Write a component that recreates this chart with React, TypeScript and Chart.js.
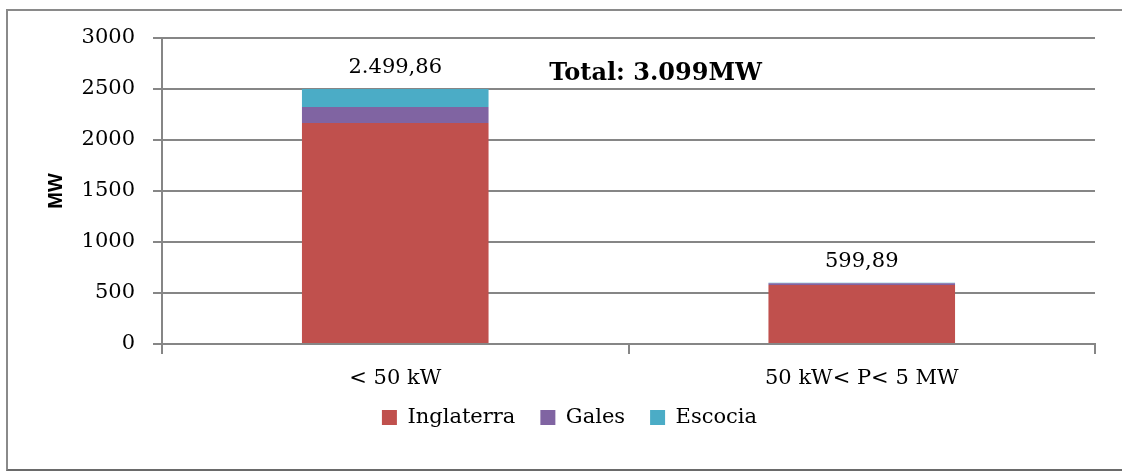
import React, { useEffect, useRef } from "react";
import { Chart, registerables } from "chart.js";

Chart.register(...registerables);

// Installed capacity by size band (MW); each stack adds up to its labelled total
const categories = ["< 50 kW", "50 kW< P< 5 MW"];
const seriesNames = ["Inglaterra", "Gales", "Escocia"];
const inglaterra = [2167.86, 577.89];
const gales = [156, 17];
const escocia = [176, 5];
const totalLabels = ["2.499,86", "599,89"];
const headline = "Total: 3.099MW";
const yTicks = [0, 500, 1000, 1500, 2000, 2500, 3000];

const seriesColors = ["#C0504D", "#8064A2", "#4BACC6"];
const axisGray = "#868686";
const serif = "'DejaVu Serif', serif";

// Draws the stack totals above each bar and the headline total in the plot.
const annotations = {
  id: "annotations",
  afterDatasetsDraw(chart: any) {
    const { ctx, scales, chartArea } = chart;
    const x = scales.x;
    const y = scales.y;
    ctx.save();
    ctx.fillStyle = "#000";
    ctx.textAlign = "center";
    ctx.textBaseline = "middle";
    ctx.font = `21px ${serif}`;
    categories.forEach((_, i) => {
      const top = inglaterra[i] + gales[i] + escocia[i];
      ctx.fillText(totalLabels[i], x.getPixelForValue(i), y.getPixelForValue(top) - 21);
    });
    ctx.font = `bold 24px ${serif}`;
    const hx = chartArea.left + (chartArea.right - chartArea.left) * 0.529;
    ctx.fillText(headline, hx, y.getPixelForValue(2650));
    ctx.restore();
  },
};

// Pulls the legend row up closer to the category labels.
const legendLift = {
  id: "legendLift",
  afterLayout(chart: any) {
    const lg = chart.legend;
    if (lg) {
      lg.top -= 12;
      lg.bottom -= 12;
    }
  },
};

export default function App() {
  const canvasRef = useRef<HTMLCanvasElement | null>(null);

  useEffect(() => {
    if (!canvasRef.current) return;
    const data = [inglaterra, gales, escocia];
    const chart = new Chart(canvasRef.current, {
      type: "bar",
      data: {
        labels: categories,
        datasets: seriesNames.map((name, i) => ({
          label: name,
          data: data[i],
          backgroundColor: seriesColors[i],
          borderWidth: 0,
          categoryPercentage: 1,
          barPercentage: 0.4,
        })),
      },
      options: {
        animation: false,
        responsive: false,
        maintainAspectRatio: false,
        layout: { padding: { left: 44, right: 27, top: 38, bottom: 23 } },
        plugins: {
          legend: {
            position: "bottom",
            labels: {
              boxWidth: 15,
              boxHeight: 15,
              padding: 25,
              color: "#000",
              font: { family: serif, size: 21 },
            },
          },
          tooltip: { enabled: false },
          title: { display: false },
        },
        scales: {
          x: {
            stacked: true,
            grid: {
              display: true,
              drawOnChartArea: false,
              color: axisGray,
              lineWidth: 2,
              tickLength: 10,
              offset: true,
            },
            border: { display: true, color: axisGray, width: 2 },
            ticks: { color: "#000", padding: 12, font: { family: serif, size: 21 } },
            afterFit: (scale: any) => {
              scale.height = 50;
            },
          },
          y: {
            stacked: true,
            min: 0,
            max: 3000,
            afterBuildTicks: (scale: any) => {
              scale.ticks = yTicks.map((v) => ({ value: v }));
            },
            grid: { color: axisGray, lineWidth: 2, tickLength: 9 },
            border: { display: true, color: axisGray, width: 2 },
            ticks: {
              color: "#000",
              padding: 18,
              font: { family: serif, size: 21 },
              callback: (v: any) => String(v),
            },
            title: {
              display: true,
              text: "MW",
              color: "#000",
              padding: { top: 0, bottom: 0 },
              font: { family: "'Liberation Sans', sans-serif", size: 20, weight: "bold" },
            },
            afterFit: (scale: any) => {
              scale.width = 118;
            },
          },
        },
      },
      plugins: [annotations, legendLift],
    });
    return () => chart.destroy();
  }, []);

  return (
    <div style={{ position: "fixed", left: 0, top: 0, width: 1122, height: 473, background: "#fff" }}>
      <div
        style={{
          position: "absolute",
          left: 6,
          top: 9,
          width: 1116,
          height: 462,
          borderLeft: "2px solid #8a8a8a",
          borderTop: "2px solid #8a8a8a",
          borderBottom: "2px solid #6a6a6a",
          boxSizing: "border-box",
        }}
      />
      <canvas
        ref={canvasRef}
        width={1122}
        height={473}
        style={{ position: "absolute", left: 0, top: 0, width: 1122, height: 473 }}
      />
    </div>
  );
}
